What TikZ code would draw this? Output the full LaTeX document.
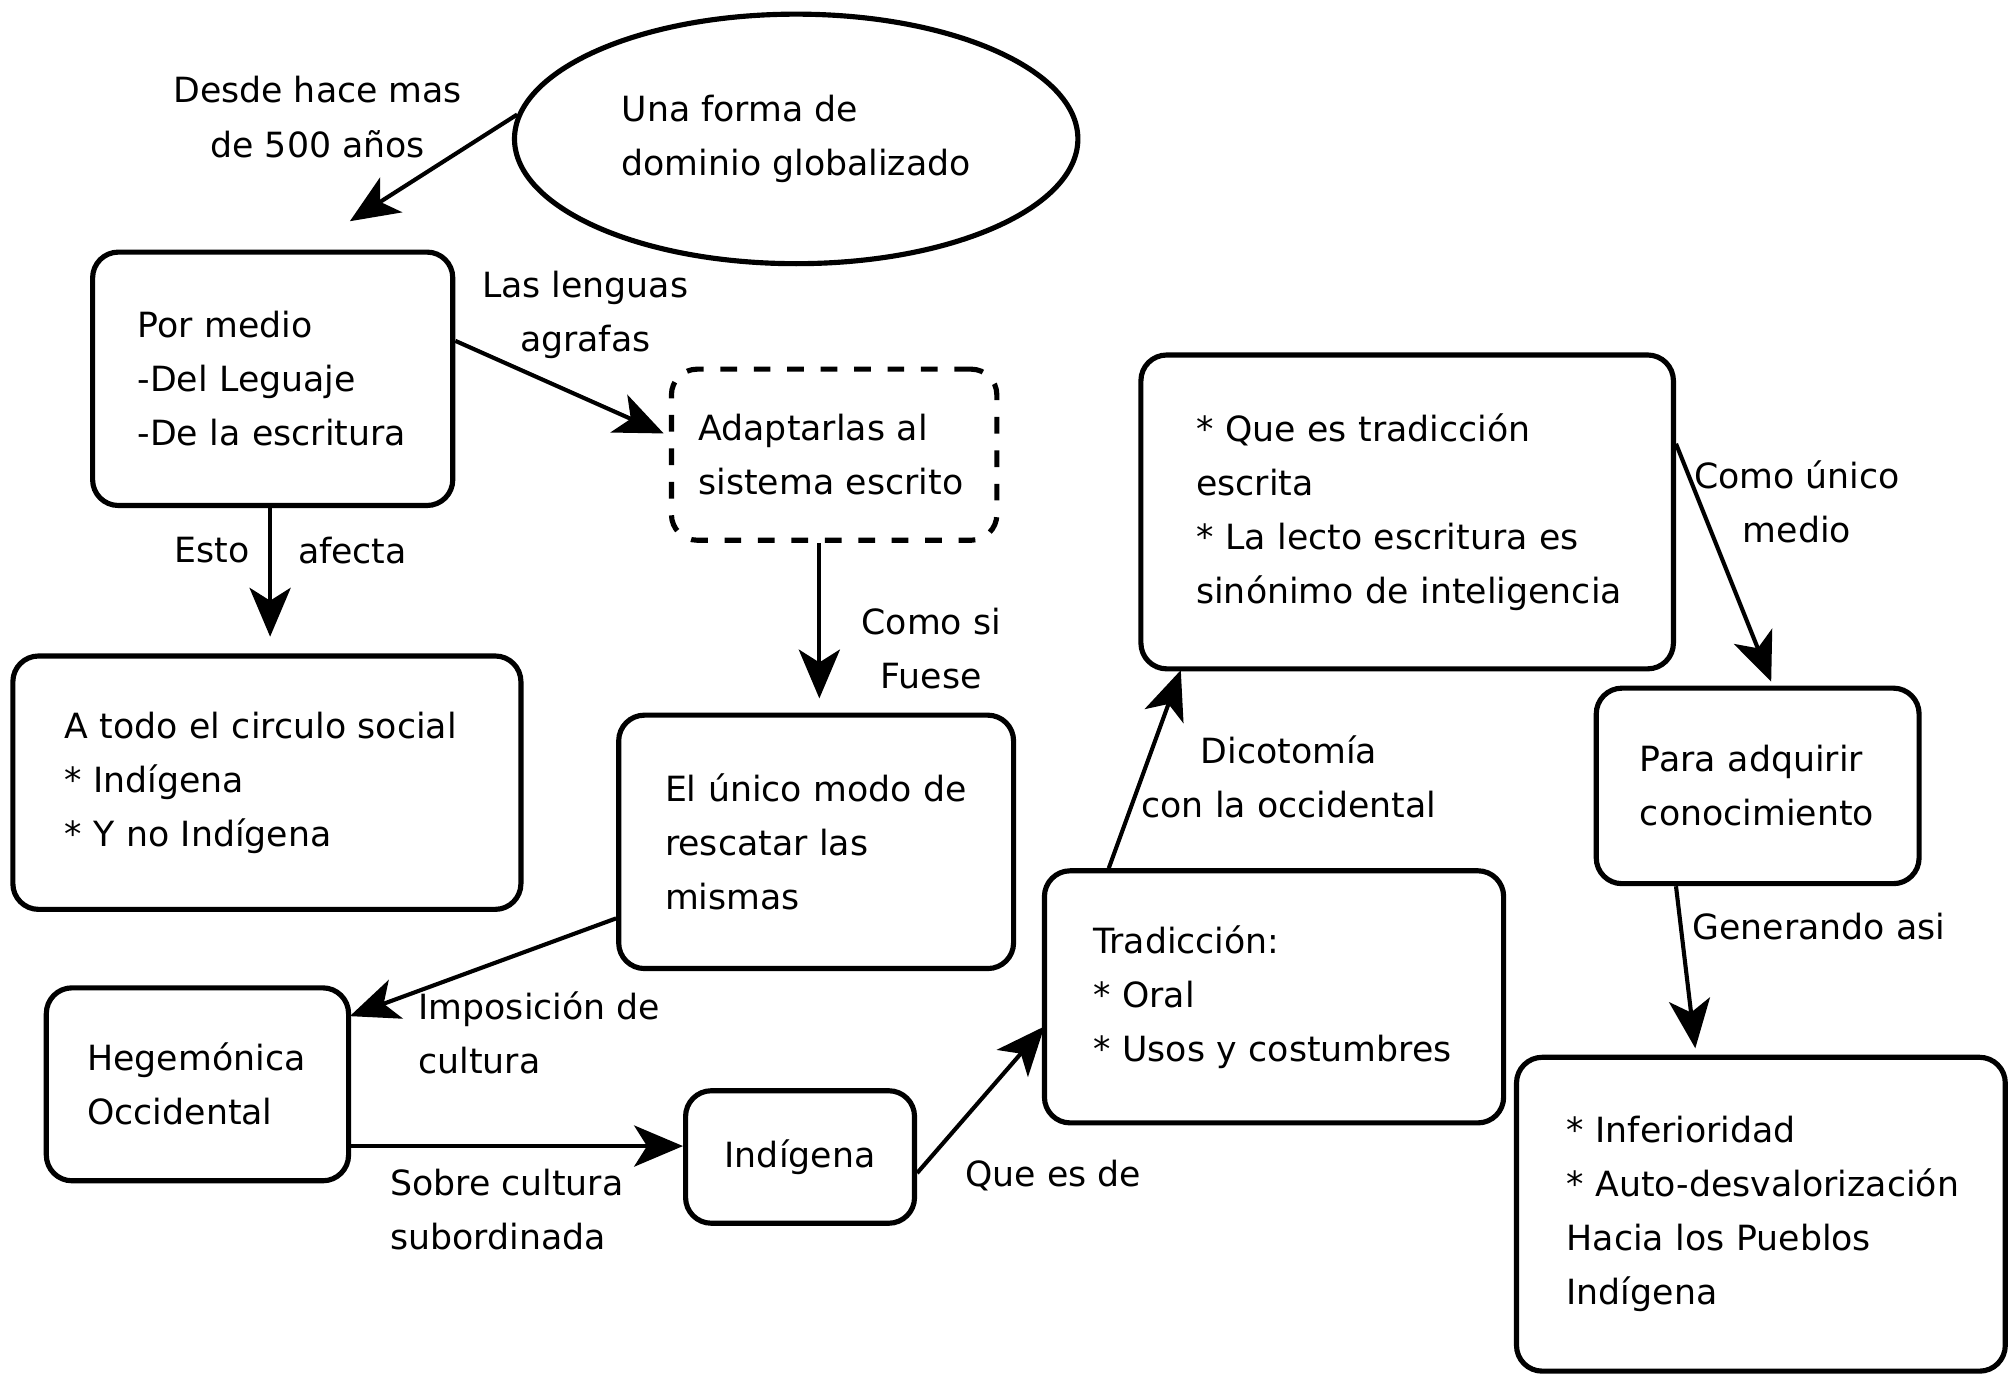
\documentclass[tikz,border=0pt]{standalone}
\usepackage{fontspec}
\setmainfont{DejaVu Sans}
\usetikzlibrary{arrows.meta,shapes.geometric}
\newcommand{\mynohyph}{\hyphenpenalty=10000\relax\exhyphenpenalty=10000\relax}
\begin{document}
\begin{tikzpicture}[x=0.5pt,y=-0.5pt,
  every node/.style={font=\fontsize{13.5}{21}\selectfont\mynohyph},
  box/.style={draw, rounded corners=10pt, line width=2pt, align=left, inner ysep=0pt},
  dbox/.style={box, dash pattern=on 6.5pt off 6.5pt},
  lbl/.style={align=center, inner sep=0pt},
  arr/.style={line width=1.6pt, -{Stealth[length=19pt,width=16pt,inset=5pt]}}]
\useasboundingbox (0,0) rectangle (1565,1074.4);

% nodes
\node[ellipse, draw, line width=2pt, minimum width=219pt, minimum height=97pt, align=left, inner sep=0pt] (ell) at (619,108) {Una forma de\\dominio globalizado};
\node[box, minimum width=140pt, minimum height=98.5pt, inner xsep=17.5pt, text width=105pt] (pm) at (212,294.5) {Por medio\\-Del Leguaje\\-De la escritura};
\node[dbox, minimum width=126.5pt, minimum height=66.5pt, inner xsep=10.5pt, text width=105.5pt] (ad) at (648.5,353.5) {Adaptarlas al\\\mbox{sistema escrito}};
\node[box, minimum width=197.5pt, minimum height=98.5pt, inner xsep=20pt, text width=157.5pt] (circ) at (207.5,608.5) {A todo el circulo social\\{*} Indígena\\{*} Y no Indígena};
\node[box, minimum width=153.5pt, minimum height=98.5pt, inner xsep=18pt, text width=117.5pt] (unico) at (634.5,654.5) {\mbox{El único modo de}\\rescatar las\\mismas};
\node[box, minimum width=117.5pt, minimum height=75pt, inner xsep=16pt, text width=85.5pt] (hego) at (153.5,843) {Hegemónica\\Occidental};
\node[box, align=center, minimum width=89pt, minimum height=51.5pt] (indi) at (622,899.5) {Indígena};
\node[box, minimum width=178.5pt, minimum height=98pt, inner xsep=19pt, text width=140.5pt] (trad) at (990.5,775) {Tradicción:\\{*} Oral\\{*} Usos y costumbres};
\node[box, minimum width=207pt, minimum height=122pt, inner xsep=21.5pt, text width=164pt] (que) at (1094,398) {* Que es tradicción\\escrita\\{*} La lecto escritura es\\\mbox{sinónimo de inteligencia}};
\node[box, minimum width=125.5pt, minimum height=76pt, inner xsep=17pt, text width=91.5pt] (para) at (1366.5,611) {Para adquirir\\\mbox{conocimiento}};
\node[box, minimum width=190pt, minimum height=122pt, inner xsep=19.5pt, text width=151pt] (inf) at (1369,944) {* Inferioridad\\\mbox{* Auto-desvalorización}\\Hacia los Pueblos\\Indígena};

% arrow tips
\coordinate (t1) at (272,172);
\coordinate (t2) at (516,337);
\coordinate (t3) at (210,495);
\coordinate (t4) at (637,543);
\coordinate (t5) at (272,790);
\coordinate (t6) at (531,891);
\coordinate (t7) at (812,798);
\coordinate (t8) at (918,521);
\coordinate (t9) at (1377,530);
\coordinate (t10) at (1318,815);

% connectors
\draw[arr] (ell.175) -- (t1);
\draw[arr] ([yshift=14.75pt]pm.east) -- (t2);
\draw[arr] ([xshift=-1pt]pm.south) -- (t3);
\draw[arr] ([xshift=-5.75pt]ad.south) -- (t4);
\draw[arr] ([yshift=-29.75pt]unico.west) -- (t5);
\draw[arr] ([yshift=-24pt]hego.east) -- (t6);
\draw[arr] ([yshift=-6.25pt]indi.east) -- (t7);
\draw[arr] ([xshift=-64.25pt]trad.north) -- (t8);
\draw[arr] ([yshift=26.5pt]que.east) -- (t9);
\draw[arr] ([xshift=-31.75pt]para.south) -- (t10);

% labels
\node[lbl] (l1) at (247,91) {Desde hace mas\\de 500 años};
\node[lbl] (l2) at (455,245) {Las lenguas\\agrafas};
\node[lbl] (l3a) at (165,428) {Esto};
\node[lbl] (l3b) at (274,428) {afecta};
\node[lbl] (l4) at (724,504) {Como si\\Fuese};
\node[lbl, align=left, anchor=west] (l5) at (325,803) {Imposición de\\cultura};
\node[lbl, align=left, anchor=west] (l6) at (303,940.5) {Sobre cultura\\subordinada};
\node[lbl] (l7) at (819,914) {Que es de};
\node[lbl] (l8) at (1002,604) {Dicotomía\\con la occidental};
\node[lbl] (l9) at (1397,390) {Como único\\medio};
\node[lbl] (l10) at (1414,720) {Generando asi};
\end{tikzpicture}
\end{document}
